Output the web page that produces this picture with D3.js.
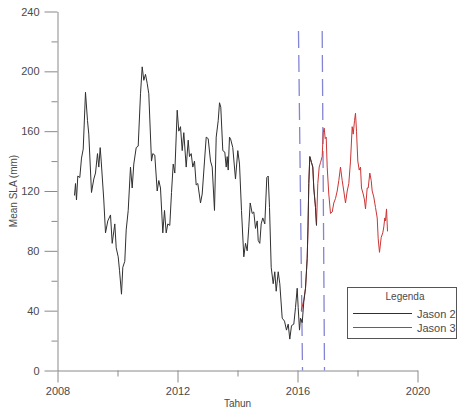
<!DOCTYPE html>
<html>
<head>
<meta charset="utf-8">
<script src="https://cdn.jsdelivr.net/npm/d3@7/dist/d3.min.js"></script>
<style>
html,body{margin:0;padding:0;background:#fff;}
svg{display:block;font-family:"Liberation Sans",Arial,sans-serif;}
</style>
</head>
<body>
<svg id="chart" width="458" height="412"></svg>
<script>
// ---- data ----
const jason2Years = [2008.567,2008.6,2008.633,2008.677,2008.743,2008.8,2008.857,2008.933,2009.0,2009.043,2009.133,2009.21,2009.267,2009.333,2009.377,2009.423,2009.457,2009.543,2009.6,2009.677,2009.767,2009.823,2009.91,2009.957,2010.023,2010.067,2010.133,2010.177,2010.243,2010.29,2010.357,2010.433,2010.49,2010.543,2010.623,2010.69,2010.767,2010.823,2010.877,2010.933,2010.99,2011.043,2011.133,2011.177,2011.243,2011.323,2011.377,2011.433,2011.51,2011.567,2011.623,2011.677,2011.743,2011.8,2011.857,2011.91,2011.99,2012.043,2012.1,2012.157,2012.21,2012.29,2012.357,2012.4,2012.457,2012.51,2012.567,2012.623,2012.677,2012.767,2012.823,2012.9,2012.957,2013.023,2013.1,2013.157,2013.233,2013.29,2013.357,2013.4,2013.443,2013.51,2013.577,2013.623,2013.657,2013.69,2013.733,2013.767,2013.843,2013.933,2014.01,2014.067,2014.133,2014.21,2014.267,2014.323,2014.377,2014.423,2014.49,2014.543,2014.6,2014.657,2014.69,2014.743,2014.79,2014.843,2014.91,2014.977,2015.023,2015.067,2015.123,2015.19,2015.243,2015.29,2015.357,2015.41,2015.49,2015.567,2015.633,2015.69,2015.743,2015.8,2015.877,2015.933,2015.99,2016.023,2016.067,2016.1,2016.157,2016.21,2016.267,2016.323,2016.35,2016.377,2016.41,2016.467,2016.51,2016.543,2016.6,2016.633];
const jason2Values = [117,125,114,130,129,142,148,186,167,158,119,128,132,145,136,149,140,114,92,100,104,85,98,82,76,67,51,69,73,94,107,136,122,138,149,150,185,203,194,198,192,185,140,145,144,120,127,122,92,107,92,98,97,119,138,132,174,160,163,147,159,136,154,143,145,136,140,124,125,112,118,140,156,155,140,136,107,156,167,179,176,147,146,136,143,134,156,155,149,128,147,138,107,76,85,80,96,112,105,106,95,100,87,85,98,102,98,129,130,109,69,58,66,53,66,58,35,33,27,31,21,30,31,42,55,42,27,35,32,46,55,75,96,125,143,139,136,122,109,97];

const jason3Years = [2016.123,2016.21,2016.267,2016.323,2016.35,2016.377,2016.41,2016.467,2016.51,2016.543,2016.6,2016.633,2016.677,2016.723,2016.767,2016.823,2016.857,2016.89,2016.923,2016.957,2016.99,2017.043,2017.1,2017.157,2017.21,2017.267,2017.323,2017.377,2017.433,2017.49,2017.543,2017.6,2017.657,2017.71,2017.767,2017.823,2017.857,2017.9,2017.933,2017.967,2018.01,2018.057,2018.1,2018.133,2018.19,2018.233,2018.267,2018.323,2018.357,2018.41,2018.457,2018.49,2018.543,2018.6,2018.657,2018.69,2018.733,2018.79,2018.843,2018.877,2018.91,2018.933,2018.967,2019.0];
const jason3Values = [40,47,55,75,96,125,143,139,136,122,109,97,125,136,139,143,159,162,155,156,136,118,105,106,112,115,120,127,136,127,120,112,120,125,140,163,158,167,172,160,140,134,136,122,118,114,108,122,122,132,127,120,116,109,102,88,79,89,92,96,102,100,108,93];

// event lines (dashed): year at top and at bottom of each line, value span
const eventTopYears = [2016.033, 2016.823];
const eventBottomYears = [2016.167, 2016.9];
const eventValueRange = [0, 227];

const xMajorTicks = [2008, 2012, 2016, 2020];
const xMinorTicks = [2010, 2014, 2018];
const yMajorTicks = [0, 40, 80, 120, 160, 200, 240];
const yMinorTicks = [20, 60, 100, 140, 180, 220];

const seriesNames = ["Jason 2", "Jason 3"];
const seriesColors = ["#303030", "#cc3535"];

// ---- chart ----
const svg = d3.select("#chart");
const x = d3.scaleLinear().domain([2008, 2020]).range([57.5, 417.5]);
const y = d3.scaleLinear().domain([0, 240]).range([370.5, 11.5]);

const axisColor = "#8a8a8a";
const textColor = "#4a4a4a";

function styleAxis(g){
  g.selectAll("path.domain").attr("stroke", axisColor);
  g.selectAll(".tick line").attr("stroke", axisColor);
  g.selectAll(".tick text").attr("fill", textColor).attr("font-size", 11)
   .attr("font-family", "'Liberation Sans', Arial, sans-serif");
}

// x axis major
svg.append("g").attr("transform", `translate(0,${y(0)})`)
  .call(d3.axisBottom(x).tickValues(xMajorTicks).tickFormat(d3.format("d"))
        .tickSize(12).tickSizeOuter(0).tickPadding(5))
  .call(styleAxis);
// x axis minor
svg.append("g").attr("transform", `translate(0,${y(0)})`)
  .call(d3.axisBottom(x).tickValues(xMinorTicks).tickFormat("").tickSize(6).tickSizeOuter(0))
  .call(g => g.select("path.domain").remove())
  .call(styleAxis);
// y axis major
svg.append("g").attr("transform", `translate(${x(2008)},0)`)
  .call(d3.axisLeft(y).tickValues(yMajorTicks).tickFormat(d3.format("d"))
        .tickSize(13).tickSizeOuter(0).tickPadding(5))
  .call(styleAxis);
// y axis minor
svg.append("g").attr("transform", `translate(${x(2008)},0)`)
  .call(d3.axisLeft(y).tickValues(yMinorTicks).tickFormat("").tickSize(6).tickSizeOuter(0))
  .call(g => g.select("path.domain").remove())
  .call(styleAxis);

// axis titles
svg.append("text").attr("x", x(2014)).attr("y", 407)
  .attr("text-anchor", "middle").attr("font-size", 10).attr("fill", textColor)
  .text("Tahun");
svg.append("text")
  .attr("transform", `translate(17,${y(120)}) rotate(-90)`)
  .attr("text-anchor", "middle").attr("font-size", 10).attr("fill", textColor)
  .text("Mean SLA (mm)");

// dashed event lines
svg.append("g").selectAll("line").data(eventTopYears).join("line")
  .attr("x1", (d) => x(d)).attr("y1", y(eventValueRange[1]))
  .attr("x2", (d, i) => x(eventBottomYears[i])).attr("y2", y(eventValueRange[0]))
  .attr("stroke", "#8484d4").attr("stroke-width", 1.3)
  .attr("stroke-dasharray", "17,7");

// series lines
const line = d3.line().x(d => x(d[0])).y(d => y(d[1]));
const j2 = jason2Years.map((t, i) => [t, jason2Values[i]]);
const j3 = jason3Years.map((t, i) => [t, jason3Values[i]]);
svg.append("path").datum(j3).attr("d", line).attr("fill", "none")
  .attr("stroke", seriesColors[1]).attr("stroke-width", 1);
svg.append("path").datum(j2).attr("d", line).attr("fill", "none")
  .attr("stroke", seriesColors[0]).attr("stroke-width", 1);

// legend
const lg = svg.append("g");
lg.append("rect").attr("x", 347.5).attr("y", 287.5).attr("width", 109).attr("height", 51)
  .attr("fill", "#fff").attr("stroke", "#555").attr("stroke-width", 1);
lg.append("text").attr("x", 405).attr("y", 300).attr("text-anchor", "middle")
  .attr("font-size", 10).attr("fill", textColor).text("Legenda");
seriesNames.forEach((name, i) => {
  const yy = 313.5 + i * 14;
  lg.append("line").attr("x1", 353).attr("x2", 412).attr("y1", yy).attr("y2", yy)
    .attr("stroke", seriesColors[i]).attr("stroke-width", 1);
  lg.append("text").attr("x", 417).attr("y", yy + 4).attr("font-size", 11)
    .attr("fill", textColor).text(name);
});
</script>
</body>
</html>
